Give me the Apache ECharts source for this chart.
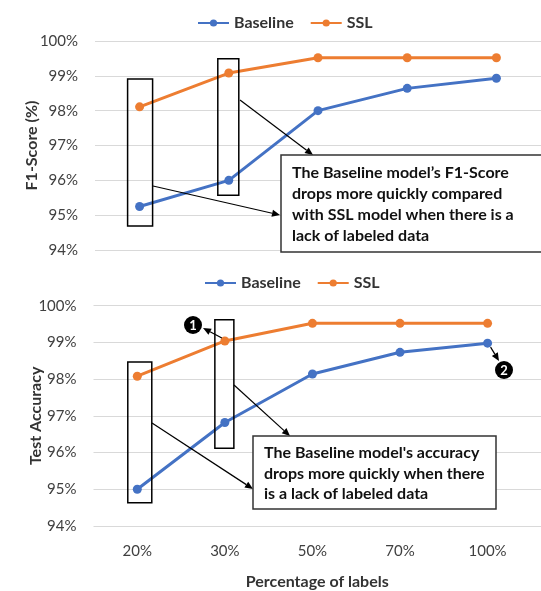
<!DOCTYPE html>
<html>
<head>
<meta charset="utf-8">
<script src="https://cdn.jsdelivr.net/npm/echarts@6/dist/echarts.min.js"></script>
<style>
html, body { margin: 0; padding: 0; background: #fff; }
#mydiv { width: 541px; height: 591px; }
</style>
</head>
<body>
<div id="mydiv"></div>
<script>
// x categories (percentage of labelled data)
var labels = ['20%', '30%', '50%', '70%', '100%'];
// top chart: F1-score (%)
var f1Baseline = [95.25, 96.0, 98.0, 98.64, 98.93];
var f1Ssl = [98.11, 99.08, 99.52, 99.52, 99.52];
// bottom chart: test accuracy (%)
var accBaseline = [95.0, 96.82, 98.14, 98.73, 98.98];
var accSsl = [98.08, 99.04, 99.52, 99.52, 99.52];

var FONT = 'Lato, "Open Sans", sans-serif';
var BLUE = '#4472C4';
var ORANGE = '#ED7D31';
var GREY = '#404040';

function pairs(arr) {
    return arr.map(function (v, i) { return [i, v]; });
}

function lineSeries(name, data, idx, color) {
    return {
        name: name,
        type: 'line',
        xAxisIndex: idx,
        yAxisIndex: idx,
        data: pairs(data),
        symbol: 'circle',
        symbolSize: 9,
        lineStyle: { width: 3, color: color },
        itemStyle: { color: color },
        emphasis: { disabled: true },
        animation: false
    };
}

function yAxis(idx, name, gap) {
    return {
        type: 'value',
        gridIndex: idx,
        min: 94,
        max: 100,
        interval: 1,
        name: name,
        nameLocation: 'middle',
        nameGap: gap,
        nameMoveOverlap: false,
        nameTextStyle: { fontFamily: FONT, fontSize: 16, fontWeight: 'bold', color: '#333' },
        axisLine: { show: false },
        axisTick: { show: false },
        axisLabel: { formatter: '{value}%', fontFamily: FONT, fontSize: 15, color: GREY, margin: 17 },
        splitLine: { lineStyle: { color: '#D9D9D9', width: 1 } }
    };
}

var echart = echarts.init(document.getElementById('mydiv'));

var legendText = { fontFamily: FONT, fontSize: 16, fontWeight: 'bold', color: '#333' };

var option = {
    backgroundColor: '#fff',
    animation: false,
    legend: [
        {
            data: ['Baseline', 'SSL'],
            left: 192, top: 10,
            itemWidth: 31, itemHeight: 9, itemGap: 16,
            textStyle: legendText
        },
        {
            data: ['Baseline', 'SSL'],
            left: 199, top: 270,
            itemWidth: 31, itemHeight: 9, itemGap: 16,
            textStyle: legendText
        }
    ],
    grid: [
        { left: 95, top: 41, width: 451.5, height: 209 },
        { left: 93.5, top: 305.7, width: 447.5, height: 224.3 }
    ],
    xAxis: [
        {
            type: 'value', gridIndex: 0, min: -0.5, max: 4.5,
            axisLine: { show: false }, axisTick: { show: false },
            axisLabel: { show: false }, splitLine: { show: false }
        },
        {
            type: 'value', gridIndex: 1, min: -0.5, max: 4.61,
            name: 'Percentage of labels',
            nameLocation: 'middle',
            nameGap: 48,
            nameMoveOverlap: false,
            nameTextStyle: { fontFamily: FONT, fontSize: 16, fontWeight: 'bold', color: '#333' },
            axisLine: { show: false }, axisTick: { show: false },
            axisLabel: {
                customValues: [0, 1, 2, 3, 4],
                formatter: function (v) { return labels[Math.round(v)]; },
                fontFamily: FONT, fontSize: 15, color: GREY, margin: 18
            },
            splitLine: { show: false }
        }
    ],
    yAxis: [yAxis(0, 'F1-Score (%)', 55), yAxis(1, 'Test Accuracy', 50)],
    series: [
        lineSeries('Baseline', f1Baseline, 0, BLUE),
        lineSeries('SSL', f1Ssl, 0, ORANGE),
        lineSeries('Baseline', accBaseline, 1, BLUE),
        lineSeries('SSL', accSsl, 1, ORANGE)
    ]
};

echart.setOption(option);

// ---------- annotations ----------
function px(idx, x, y) {
    return echart.convertToPixel({ xAxisIndex: idx, yAxisIndex: idx }, [x, y]);
}

// box round a category, spanning two values
function boxAt(idx, cat, dx, halfW, vTop, vBottom) {
    var a = px(idx, cat, vTop), b = px(idx, cat, vBottom);
    return {
        type: 'rect',
        shape: { x: a[0] + dx - halfW, y: a[1], width: halfW * 2, height: b[1] - a[1] },
        style: { fill: 'none', stroke: '#000', lineWidth: 1.5 },
        z: 10
    };
}

function arrow(x1, y1, x2, y2) {
    var ang = Math.atan2(y2 - y1, x2 - x1);
    var len = 8, hw = 3.5;
    var bx = x2 - len * Math.cos(ang), by = y2 - len * Math.sin(ang);
    var nx = -Math.sin(ang) * hw, ny = Math.cos(ang) * hw;
    return [
        {
            type: 'line',
            shape: { x1: x1, y1: y1, x2: bx, y2: by },
            style: { stroke: '#000', lineWidth: 1.2 },
            z: 11
        },
        {
            type: 'polygon',
            shape: { points: [[x2, y2], [bx + nx, by + ny], [bx - nx, by - ny]] },
            style: { fill: '#000' },
            z: 11
        }
    ];
}

function textBox(x, y, w, h, lines, lh) {
    return [
        {
            type: 'rect',
            shape: { x: x, y: y, width: w, height: h },
            style: { fill: '#fff', stroke: '#333', lineWidth: 1.5 },
            z: 12
        },
        {
            type: 'text',
            x: x + 11, y: y + 7,
            style: {
                text: lines.join('\n'),
                font: 'bold 16px ' + FONT,
                lineHeight: lh,
                fill: '#111'
            },
            z: 13
        }
    ];
}

function badge(cx, cy, t) {
    return [
        { type: 'circle', shape: { cx: cx, cy: cy, r: 9 }, style: { fill: '#000' }, z: 14 },
        {
            type: 'text', x: cx, y: cy + 0.5,
            style: { text: t, font: 'bold 13px ' + FONT, fill: '#fff', align: 'center', verticalAlign: 'middle' },
            z: 15
        }
    ];
}

var g = [];
g.push(boxAt(0, 0, 0.5, 12.5, 98.91, 94.69));
g.push(boxAt(0, 1, -0.5, 10.5, 99.49, 95.57));
g.push(boxAt(1, 0, 2.5, 12, 98.47, 94.63));
g.push(boxAt(1, 1, -0.5, 9.5, 99.62, 96.12));

g = g.concat(arrow(240, 100, 313, 155));
g = g.concat(arrow(153, 186, 280, 215));
g = g.concat(textBox(281, 155, 270, 97, [
    'The Baseline model\u2019s F1-Score',
    'drops more quickly compared',
    'with SSL model when there is a',
    'lack of labeled data'
], 21));

g = g.concat(arrow(234, 385, 290, 436));
g = g.concat(arrow(152, 423, 253, 489));
g = g.concat(textBox(253, 436, 243, 73, [
    'The Baseline model\'s accuracy',
    'drops more quickly when there',
    'is a lack of labeled data'
], 20.5));

var p1 = px(1, 1, accSsl[1]);
g = g.concat(arrow(p1[0] - 3, p1[1] - 3, 203, 328));
g = g.concat(badge(193, 325, '1'));
var p2 = px(1, 4, accBaseline[4]);
g = g.concat(arrow(p2[0] + 3, p2[1] + 4, 499, 361));
g = g.concat(badge(504, 370, '2'));

echart.setOption({ graphic: g });
</script>
</body>
</html>
